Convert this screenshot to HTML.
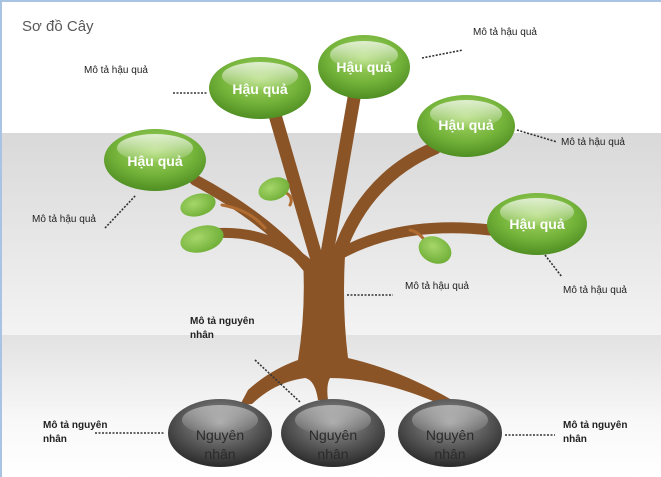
<!DOCTYPE html>
<html><head><meta charset="utf-8"><style>
html,body{margin:0;padding:0;width:661px;height:477px;overflow:hidden;background:#fff}
svg{display:block}
text{font-family:"Liberation Sans","DejaVu Sans",sans-serif}
</style></head><body>
<svg width="661" height="477" viewBox="0 0 661 477" xmlns="http://www.w3.org/2000/svg">
<defs>
<linearGradient id="band" x1="0" y1="0" x2="0" y2="1">
<stop offset="0" stop-color="#d9d9d9"/><stop offset="1" stop-color="#f3f3f3"/>
</linearGradient>
<linearGradient id="bot" x1="0" y1="0" x2="0" y2="1">
<stop offset="0" stop-color="#e2e2e2"/><stop offset="0.6" stop-color="#f8f8f8"/><stop offset="1" stop-color="#ffffff"/>
</linearGradient>
<radialGradient id="g" cx="0.5" cy="0.35" r="0.65">
<stop offset="0" stop-color="#a8d86a"/><stop offset="0.6" stop-color="#74b33a"/><stop offset="1" stop-color="#4f8e22"/>
</radialGradient>
<radialGradient id="k" cx="0.5" cy="0.35" r="0.65">
<stop offset="0" stop-color="#9a9a9a"/><stop offset="0.6" stop-color="#555"/><stop offset="1" stop-color="#2a2a2a"/>
</radialGradient>
<linearGradient id="hl" x1="0" y1="0" x2="0" y2="1">
<stop offset="0" stop-color="#fff" stop-opacity="0.75"/><stop offset="1" stop-color="#fff" stop-opacity="0.05"/>
</linearGradient>
<radialGradient id="leaf" cx="0.4" cy="0.4" r="0.7">
<stop offset="0" stop-color="#a6d66a"/><stop offset="1" stop-color="#6aab32"/>
</radialGradient>
</defs>
<rect width="661" height="477" fill="#fff"/>
<rect x="0" y="133" width="661" height="202" fill="url(#band)"/>
<rect x="0" y="335" width="661" height="142" fill="url(#bot)"/>
<rect x="0" y="0" width="661" height="2" fill="#a9c4e2"/>
<rect x="0" y="0" width="2" height="477" fill="#a9c4e2"/>
<text x="22" y="31" font-size="15" fill="#595959">Sơ đồ Cây</text>

<!-- tree -->
<g fill="#8b5427" stroke="none">
<path d="M303 260 Q306 310 298 360 Q270 370 248 390 L240 405 L252 404 Q275 382 305 378 Q315 380 318 400 L328 400 Q326 385 330 378 Q380 378 440 404 L452 400 Q400 370 348 358 Q342 310 345 255 Z"/>
</g>
<g fill="none" stroke="#8b5427" stroke-linecap="round">
<path d="M320 270 Q300 200 275 115" stroke-width="13"/>
<path d="M325 265 Q340 180 354 98" stroke-width="13"/>
<path d="M335 265 Q360 180 435 148" stroke-width="13"/>
<path d="M338 255 Q400 220 490 230" stroke-width="11"/>
<path d="M310 270 Q270 220 195 180" stroke-width="11"/>
<path d="M306 262 Q260 225 200 235" stroke-width="10"/>
<path d="M265 228 Q250 210 222 205" stroke-width="3" stroke="#b06c30"/>
<path d="M290 205 Q295 195 280 190" stroke-width="3" stroke="#b06c30"/>
<path d="M410 230 Q420 232 428 245" stroke-width="3" stroke="#b06c30"/>
</g>
<!-- leaves -->
<ellipse cx="198" cy="205" rx="18" ry="11" transform="rotate(-15 198 205)" fill="url(#leaf)"/>
<ellipse cx="274" cy="189" rx="16" ry="11" transform="rotate(-20 274 189)" fill="url(#leaf)"/>
<ellipse cx="202" cy="239" rx="22" ry="13" transform="rotate(-15 202 239)" fill="url(#leaf)"/>
<ellipse cx="435" cy="250" rx="17" ry="13" transform="rotate(25 435 250)" fill="url(#leaf)"/>

<!-- dotted connectors -->
<g stroke="#333" stroke-width="1.6" stroke-dasharray="2,1.5" fill="none">
<line x1="173" y1="93" x2="208" y2="93"/>
<line x1="422" y1="58" x2="463" y2="50"/>
<line x1="517" y1="130" x2="557" y2="142"/>
<line x1="105" y1="228" x2="136" y2="195"/>
<line x1="545" y1="255" x2="562" y2="277"/>
<line x1="347" y1="295" x2="393" y2="295"/>
<line x1="255" y1="360" x2="300" y2="402"/>
<line x1="95" y1="433" x2="165" y2="433"/>
<line x1="505" y1="435" x2="555" y2="435"/>
</g>

<!-- green ellipses -->
<g font-weight="bold" font-size="14" fill="#fff" text-anchor="middle">
<g><ellipse cx="155" cy="160" rx="51" ry="31" fill="url(#g)"/><ellipse cx="155" cy="148" rx="38" ry="14" fill="url(#hl)"/><text x="155" y="166">Hậu quả</text></g>
<g><ellipse cx="260" cy="88" rx="51" ry="31" fill="url(#g)"/><ellipse cx="260" cy="76" rx="38" ry="14" fill="url(#hl)"/><text x="260" y="94">Hậu quả</text></g>
<g><ellipse cx="364" cy="67" rx="46" ry="32" fill="url(#g)"/><ellipse cx="364" cy="55" rx="34" ry="14" fill="url(#hl)"/><text x="364" y="72">Hậu quả</text></g>
<g><ellipse cx="466" cy="126" rx="49" ry="31" fill="url(#g)"/><ellipse cx="466" cy="114" rx="36" ry="14" fill="url(#hl)"/><text x="466" y="130">Hậu quả</text></g>
<g><ellipse cx="537" cy="224" rx="50" ry="31" fill="url(#g)"/><ellipse cx="537" cy="212" rx="37" ry="14" fill="url(#hl)"/><text x="537" y="229">Hậu quả</text></g>
</g>

<!-- gray ellipses -->
<g font-size="14" fill="#2b2b2b" text-anchor="middle">
<g><ellipse cx="220" cy="433" rx="52" ry="34" fill="url(#k)"/><ellipse cx="220" cy="420" rx="38" ry="15" fill="url(#hl)" opacity="0.6"/><text x="220" y="440">Nguyên</text><text x="220" y="459">nhân</text></g>
<g><ellipse cx="333" cy="433" rx="52" ry="34" fill="url(#k)"/><ellipse cx="333" cy="420" rx="38" ry="15" fill="url(#hl)" opacity="0.6"/><text x="333" y="440">Nguyên</text><text x="333" y="459">nhân</text></g>
<g><ellipse cx="450" cy="433" rx="52" ry="34" fill="url(#k)"/><ellipse cx="450" cy="420" rx="38" ry="15" fill="url(#hl)" opacity="0.6"/><text x="450" y="440">Nguyên</text><text x="450" y="459">nhân</text></g>
</g>

<!-- labels -->
<g font-size="10" fill="#222">
<text x="84" y="73">Mô tả hậu quả</text>
<text x="473" y="35">Mô tả hậu quả</text>
<text x="561" y="145">Mô tả hậu quả</text>
<text x="32" y="222">Mô tả hậu quả</text>
<text x="563" y="293">Mô tả hậu quả</text>
<text x="405" y="289">Mô tả hậu quả</text>
</g>
<g font-size="10" font-weight="bold" fill="#222">
<text x="190" y="324">Mô tả nguyên</text><text x="190" y="338">nhân</text>
<text x="43" y="428">Mô tả nguyên</text><text x="43" y="442">nhân</text>
<text x="563" y="428">Mô tả nguyên</text><text x="563" y="442">nhân</text>
</g>
</svg>
</body></html>
